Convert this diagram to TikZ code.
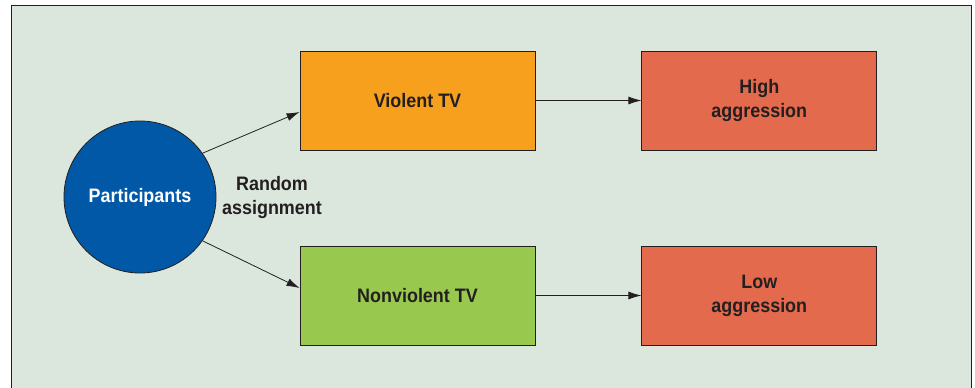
\documentclass[tikz,border=0pt]{standalone}
\usepackage{fontspec}
\setmainfont{Liberation Sans}[FakeStretch=0.92]
\usetikzlibrary{arrows.meta,positioning}

\definecolor{panelbg}{RGB}{219,231,221}
\definecolor{linegray}{RGB}{35,31,32}
\definecolor{partblue}{RGB}{0,88,166}
\definecolor{violentorange}{RGB}{246,160,30}
\definecolor{calmgreen}{RGB}{152,200,78}
\definecolor{aggrred}{RGB}{227,106,77}

\begin{document}
\begin{tikzpicture}[x=1pt, y=-1pt,
        every node/.style={font=\bfseries\fontsize{19.5}{24}\selectfont, text=linegray, align=center},
        groupbox/.style={draw=linegray, line width=0.8pt, minimum width=235pt, minimum height=99pt, inner sep=0pt},
        link/.style={draw=linegray, line width=0.8pt, -{Latex[length=13pt,width=8pt]}}
    ]
        % Khung nen
        \useasboundingbox (0,0) rectangle (975,388);
        \fill[white] (0,0) rectangle (975,388);
        \fill[panelbg] (11,5) rectangle (971,395);
        \draw[linegray, line width=1pt] (11,395) -- (11,5) -- (971,5) -- (971,395);

        % Cac nut
        \node[circle, draw=linegray, line width=0.8pt, fill=partblue, text=white, minimum size=152pt, inner sep=0pt] (part) at (140,197) {Participants};
        \node[groupbox, fill=violentorange] (violent) at (417.5,100.5) {Violent TV};
        \node[groupbox, fill=calmgreen] (nonviolent) at (417.5,295.5) {Nonviolent TV};
        \node[groupbox, fill=aggrred, right=106pt of violent] (high) {High\\aggression};
        \node[groupbox, fill=aggrred, right=106pt of nonviolent] (low) {Low\\aggression};
        \node (assign) at (272,197) {Random\\assignment};

        % Cac mui ten
        \draw[link] (part.35) -- (violent.west |- 0,112);
        \draw[link] (part.-35) -- (nonviolent.west |- 0,288);
        \draw[link] (violent) -- (high);
        \draw[link] (nonviolent) -- (low);
    \end{tikzpicture}
\end{document}
